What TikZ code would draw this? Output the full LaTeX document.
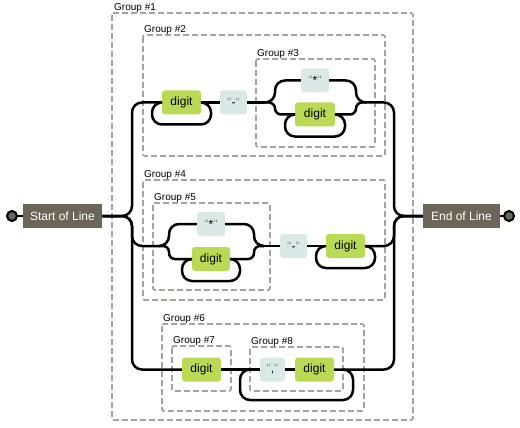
\documentclass[tikz,border=0pt]{standalone}
\usepackage{fontspec}
\setmainfont{Liberation Sans}[Ligatures=TeXOff]
\newfontfamily\qfont{Liberation Sans}
\definecolor{dgreen}{HTML}{BADA55}
\definecolor{litc}{HTML}{DAE9E5}
\definecolor{termc}{HTML}{6B6659}
\definecolor{grpc}{HTML}{A6A39E}
\definecolor{quoc}{HTML}{908C83}
\newcommand{\qlit}[1]{{\qfont\textcolor{quoc}{"}#1\textcolor{quoc}{"}}}
\begin{document}
\begin{tikzpicture}[x=1pt,y=-1pt,
  ln/.style={line width=2.5pt, draw=black},
  bx/.style={rounded corners=3pt, minimum height=24pt, inner sep=0pt, font=\fontsize{12}{14}\selectfont},
  dg/.style={bx, fill=dgreen, minimum width=39pt},
  lt/.style={bx, fill=litc},
  tm/.style={fill=termc, text=white, minimum height=24pt, inner sep=0pt, font=\fontsize{12}{14}\selectfont},
  grpbox/.style={draw=grpc, line width=1.8pt, dash pattern=on 6pt off 3pt, rounded corners=2pt},
  glabel/.style={anchor=base west, inner sep=0pt, font=\fontsize{10}{12}\selectfont},
  endpt/.style={circle, fill=termc, draw=black, line width=2pt, minimum size=10pt, inner sep=0pt}]
\useasboundingbox (0,0) rectangle (520,428);
% groups
\draw[grpbox] (112,13) rectangle (413,420);
\node[glabel] (l1) at (114,10.5) {Group \#1};
\draw[grpbox] (143,35) rectangle (385,156);
\node[glabel] (l2) at (144,32.5) {Group \#2};
\draw[grpbox] (256,59) rectangle (375,147);
\node[glabel] (l3) at (257,56.5) {Group \#3};
\draw[grpbox] (143,180) rectangle (385,300);
\node[glabel] (l4) at (144,177.5) {Group \#4};
\draw[grpbox] (153,203) rectangle (270,290);
\node[glabel] (l5) at (154,200.5) {Group \#5};
\draw[grpbox] (162,324) rectangle (364,411);
\node[glabel] (l6) at (163,321.5) {Group \#6};
\draw[grpbox] (172,346) rectangle (231,391);
\node[glabel] (l7) at (173,343.5) {Group \#7};
\draw[grpbox] (250,347) rectangle (343,391);
\node[glabel] (l8) at (251,344.5) {Group \#8};
% terminals
\node[endpt] (sc) at (12,216) {};
\node[tm, minimum width=79pt] (start) at (62.5,216) {Start of Line};
\node[tm, minimum width=77pt] (end) at (461.5,216) {End of Line};
\node[endpt] (ec) at (509,216) {};
% top
\node[dg] (d1) at (181.5,102.5) {digit};
\node[lt, minimum width=27pt] (m1) at (233.5,102.5) {\qlit{-}};
\node[lt, minimum width=28pt] (s1) at (315,80.5) {\qlit{*}};
\node[dg, minimum width=40pt] (d3) at (315,114.5) {digit};
% middle
\node[lt, minimum width=28pt] (s2) at (211,224) {\qlit{*}};
\node[dg, minimum width=38pt] (d5) at (211,259) {digit};
\node[lt, minimum width=27pt] (m2) at (293.5,246) {\qlit{-}};
\node[dg] (d4) at (345.5,246) {digit};
% bottom
\node[dg] (d7) at (201.5,369.5) {digit};
\node[lt, minimum width=25pt] (c8) at (272.5,369.5) {\qlit{,}};
\node[dg] (d8) at (314.5,369.5) {digit};
% coordinates
\coordinate (L) at (132,216);
\coordinate (R) at (394,216);
\coordinate (g3in) at (265,102.5);
\coordinate (g3L) at (275,102.5);
\coordinate (g3R) at (356,102.5);
\coordinate (g3out) at (366,102.5);
\coordinate (g5in) at (159,246);
\coordinate (g5L) at (169,246);
\coordinate (g5R) at (254,246);
\coordinate (g5out) at (264,246);
\coordinate (g8L) at (250,369.5);
\coordinate (g8R) at (343,369.5);
% connectors
\draw[ln] (sc) -- (start);
\draw[ln] (end) -- (ec);
\draw[ln, rounded corners=10pt] (start.east) -- (L) |- (d1.west);
\draw[ln, rounded corners=10pt] (start.east) -- (L) |- (g5in);
\draw[ln, rounded corners=10pt] (start.east) -- (L) |- (d7.west);
\draw[ln, rounded corners=10pt] (g3out) -| (R) -- (end.west);
\draw[ln, rounded corners=10pt] (d4.east) -| (R) -- (end.west);
\draw[ln, rounded corners=10pt] (d8.east) -| (R) -- (end.west);
% top branch
\draw[ln] (d1.east) -- (m1.west);
\draw[ln] (m1.east) -- (g3in);
\draw[ln, rounded corners=10pt] (g3in) -- (g3L) |- (s1.west);
\draw[ln, rounded corners=6pt] (g3in) -- (g3L) |- (d3.west);
\draw[ln, rounded corners=10pt] (s1.east) -| (g3R) -- (g3out);
\draw[ln, rounded corners=6pt] (d3.east) -| (g3R) -- (g3out);
\draw[ln, rounded corners=10pt] (d1.west) -| (152,124.5) -| (211,102.5) -- (d1.east);
\draw[ln, rounded corners=10pt] (d3.west) -| (285,136.5) -| (345,114.5) -- (d3.east);
% middle branch
\draw[ln, rounded corners=10pt] (g5in) -- (g5L) |- (s2.west);
\draw[ln, rounded corners=6pt] (g5in) -- (g5L) |- (d5.west);
\draw[ln, rounded corners=10pt] (s2.east) -| (g5R) -- (g5out);
\draw[ln, rounded corners=6pt] (d5.east) -| (g5R) -- (g5out);
\draw[ln] (g5out) -- (m2.west);
\draw[ln] (m2.east) -- (d4.west);
\draw[ln, rounded corners=10pt] (d5.west) -| (182,281) -| (240,259) -- (d5.east);
\draw[ln, rounded corners=10pt] (d4.west) -| (316,268) -| (375,246) -- (d4.east);
% bottom branch
\draw[ln] (d7.east) -- (c8.west);
\draw[ln] (c8.east) -- (d8.west);
\draw[ln, rounded corners=10pt] (g8L) -| (240,400) -| (353,369.5) -- (g8R);
\end{tikzpicture}
\end{document}
